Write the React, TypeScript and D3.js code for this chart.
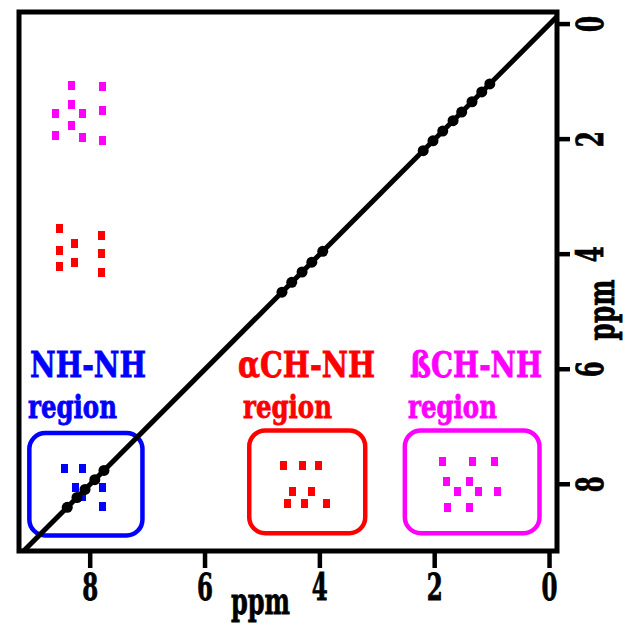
import React from "react";
import * as d3 from "d3";

// ---------- data (ppm) ----------
const X_DOMAIN = [9.24, -0.13];
const Y_DOMAIN = [-0.21, 9.16];
const xTickValues = [8, 6, 4, 2, 0];
const yTickValues = [0, 2, 4, 6, 8];

const diagonalPeaks = [
  8.40, 8.23, 8.09, 7.92, 7.76,
  4.66, 4.49, 4.31, 4.14, 3.95,
  2.20, 2.03, 1.86, 1.68, 1.53, 1.35, 1.18, 1.04,
];

// NH (x) vs betaCH (y), upper-left magenta
const nhBetaPeaks = [
  [8.32, 1.06], [7.78, 1.09], [8.32, 1.39], [8.60, 1.56], [8.14, 1.56],
  [7.78, 1.51], [8.32, 1.77], [8.60, 1.93], [8.14, 1.98], [7.78, 2.02],
];
// NH (x) vs alphaCH (y), upper-left red
const nhAlphaPeaks = [
  [8.53, 3.56], [7.81, 3.67], [8.27, 3.81], [8.53, 3.93],
  [7.81, 3.98], [8.27, 4.14], [8.53, 4.22], [7.81, 4.31],
];
// NH-NH region, blue
const nhNhPeaks = [
  [8.44, 7.72], [8.13, 7.72], [8.25, 8.05], [7.78, 8.05], [8.13, 8.22], [7.78, 8.38],
];
// alphaCH-NH region, red
const alphaNhPeaks = [
  [4.64, 7.68], [4.31, 7.68], [4.03, 7.68], [4.47, 8.13],
  [4.14, 8.13], [4.56, 8.34], [4.26, 8.34], [3.89, 8.34],
];
// betaCH-NH region, magenta
const betaNhPeaks = [
  [1.86, 7.60], [1.35, 7.60], [0.95, 7.60], [1.80, 7.96], [1.40, 7.96],
  [1.60, 8.13], [1.23, 8.13], [0.90, 8.13], [1.77, 8.41], [1.40, 8.41],
];

const regionNames = ["NH-NH", "αCH-NH", "ßCH-NH"];
const regionXRanges = [[9.06, 7.09], [5.23, 3.21], [2.52, 0.175]];
const regionYRanges = [[7.11, 8.89], [7.065, 8.85], [7.065, 8.85]];

// ---------- styles ----------
const BLUE = "#0000ff";
const RED = "#ff0000";
const MAGENTA = "#ff00ff";
const regionColors = [BLUE, RED, MAGENTA];
const regionLabelX = [30, 238, 410];
const regionLabelLen = [116, 137, 132];
const regionWordX = [28, 243, 408];
const FONT = "'DejaVu Serif', 'Liberation Serif', serif";

const W = 624;
const H = 625;
const L = 19, R = 557, T = 12, B = 551;

export default function App() {
  const x = d3.scaleLinear().domain(X_DOMAIN).range([L, R]);
  const y = d3.scaleLinear().domain(Y_DOMAIN).range([T, B]);
  const diag = d3.line<number>().x((p) => x(p)).y((p) => y(p));

  const sq = (pts: number[][], color: string, key: string) =>
    pts.map((p, i) => (
      <rect key={key + i} x={x(p[0]) - 3.5} y={y(p[1]) - 4.5} width={7} height={9} fill={color} />
    ));

  const textStyle = { fontFamily: FONT, fontWeight: 700 as const };

  return (
    <svg width={W} height={H} style={{ position: "absolute", left: 0, top: 0, background: "#fff" }}>
      <defs>
        <clipPath id="plot">
          <rect x={L} y={T} width={R - L} height={B - T} />
        </clipPath>
      </defs>
      <rect x={0} y={0} width={W} height={H} fill="#fff" />

      {/* region boxes */}
      {regionNames.map((n, i) => {
        const x0 = x(regionXRanges[i][0]);
        const x1 = x(regionXRanges[i][1]);
        const y0 = y(regionYRanges[i][0]);
        const y1 = y(regionYRanges[i][1]);
        return (
          <rect key={"box" + i} x={x0} y={y0} width={x1 - x0} height={y1 - y0} rx={16} ry={16}
            fill="none" stroke={regionColors[i]} strokeWidth={4.5} />
        );
      })}

      {/* cross peaks */}
      <g shapeRendering="crispEdges">
        {sq(nhBetaPeaks, MAGENTA, "nb")}
        {sq(nhAlphaPeaks, RED, "na")}
        {sq(nhNhPeaks, BLUE, "nn")}
        {sq(alphaNhPeaks, RED, "an")}
        {sq(betaNhPeaks, MAGENTA, "bn")}
      </g>

      {/* diagonal */}
      <g clipPath="url(#plot)">
        <path d={diag([-0.4, 9.4]) || ""} stroke="#000" strokeWidth={5} fill="none" />
        {diagonalPeaks.map((p, i) => (
          <circle key={"d" + i} cx={x(p)} cy={y(p)} r={5.5} fill="#000" />
        ))}
      </g>

      {/* region labels */}
      {regionNames.map((n, i) => (
        <g key={"lab" + i} fill={regionColors[i]} stroke={regionColors[i]} strokeWidth={0.8} style={textStyle}>
          <text x={regionLabelX[i]} y={377} fontSize={35}
            textLength={regionLabelLen[i]} lengthAdjust="spacingAndGlyphs">{n}</text>
          <text x={regionWordX[i]} y={418} fontSize={31}
            textLength={89} lengthAdjust="spacingAndGlyphs">region</text>
        </g>
      ))}

      {/* frame */}
      <rect x={L} y={T} width={R - L} height={B - T} fill="none" stroke="#000" strokeWidth={5} />

      {/* bottom axis */}
      {xTickValues.map((t) => (
        <g key={"xt" + t}>
          <line x1={x(t)} x2={x(t)} y1={B} y2={B + 17} stroke="#000" strokeWidth={4.5} />
          <text x={x(t)} y={600} fontSize={37} textAnchor="middle" textLength={16}
            lengthAdjust="spacingAndGlyphs" fill="#000" stroke="#000" strokeWidth={0.8} style={textStyle}>{t}</text>
        </g>
      ))}
      <text transform="translate(231,614) scale(0.65,1)" fontSize={37}
        fill="#000" stroke="#000" strokeWidth={0.8} style={textStyle}>ppm</text>

      {/* right axis */}
      {yTickValues.map((t) => (
        <g key={"yt" + t}>
          <line x1={R} x2={R + 13} y1={y(t)} y2={y(t)} stroke="#000" strokeWidth={4.5} />
          <text transform={`translate(603,${y(t)}) rotate(-90)`} fontSize={37} textAnchor="middle"
            textLength={16} lengthAdjust="spacingAndGlyphs" fill="#000" stroke="#000" strokeWidth={0.8}
            style={textStyle}>{t}</text>
        </g>
      ))}
      <text transform="translate(614,310) rotate(-90) scale(0.67,1)" fontSize={37} textAnchor="middle"
        fill="#000" stroke="#000" strokeWidth={0.8} style={textStyle}>ppm</text>
    </svg>
  );
}
